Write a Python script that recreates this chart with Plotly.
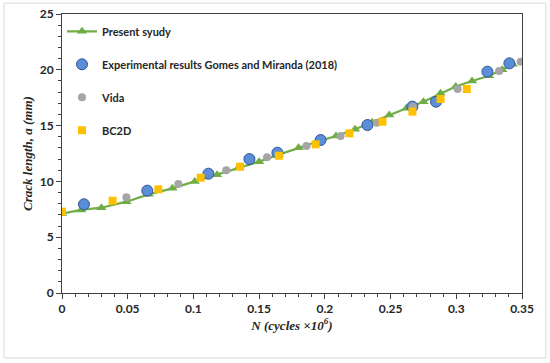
import plotly.graph_objects as go

# Present study (line + triangles)
present_N = [0, 0.0145, 0.030, 0.049, 0.066, 0.084, 0.101, 0.118, 0.134, 0.150, 0.165, 0.180,
             0.194, 0.2085, 0.223, 0.236, 0.249, 0.262, 0.275, 0.288, 0.2996, 0.312, 0.325, 0.335, 0.343]
present_a = [7.1, 7.44, 7.64, 8.18, 8.84, 9.38, 10.0, 10.6, 11.2, 11.77, 12.4, 13.02,
             13.55, 14.07, 14.67, 15.3, 15.95, 16.55, 17.14, 17.89, 18.5, 19.0, 19.47, 20.0, 20.5]

# Experimental results Gomes and Miranda (2018)
exp_N = [0.0167, 0.0649, 0.1114, 0.1426, 0.1639, 0.1968, 0.2324, 0.2666, 0.2846, 0.3237, 0.3404]
exp_a = [7.95, 9.17, 10.69, 12.0, 12.57, 13.71, 15.05, 16.7, 17.14, 19.83, 20.58]

# Vida
vida_N = [0.049, 0.0885, 0.125, 0.156, 0.186, 0.212, 0.2395, 0.267, 0.301, 0.3326, 0.349]
vida_a = [8.57, 9.77, 11.0, 12.16, 13.17, 14.07, 15.26, 16.7, 18.28, 19.9, 20.73]

# BC2D
bc_N = [0.0, 0.0385, 0.0733, 0.1055, 0.1355, 0.165, 0.193, 0.2187, 0.2438, 0.2666, 0.288, 0.308]
bc_a = [7.29, 8.27, 9.29, 10.33, 11.32, 12.3, 13.32, 14.31, 15.35, 16.25, 17.38, 18.28]

x_ticks = [0, 0.05, 0.1, 0.15, 0.2, 0.25, 0.3, 0.35]
x_ticktext = ["0", "0.05", "0.1", "0.15", "0.2", "0.25", "0.3", "0.35"]
y_ticks = [0, 5, 10, 15, 20, 25]

fig = go.Figure()
fig.add_trace(go.Scatter(x=present_N, y=present_a, mode="lines+markers", name="Present syudy",
                         line=dict(color="#70AD47", width=2.25),
                         marker=dict(symbol="triangle-up", size=9, color="#70AD47"),
                         legendgroup="a"))
fig.add_trace(go.Scatter(x=exp_N, y=exp_a, mode="markers",
                         name="Experimental results Gomes and Miranda (2018)",
                         marker=dict(symbol="circle", size=11, color="#5B8ED6",
                                     line=dict(color="#2F5597", width=1)),
                         legendgroup="b"))
fig.add_trace(go.Scatter(x=vida_N, y=vida_a, mode="markers", name="Vida",
                         marker=dict(symbol="circle", size=8, color="#A5A5A5"),
                         legendgroup="c"))
fig.add_trace(go.Scatter(x=bc_N, y=bc_a, mode="markers", name="BC2D",
                         marker=dict(symbol="square", size=8, color="#FFC000"),
                         legendgroup="d"))

axis_color = "#404040"
tickfont = dict(family="Lato", size=12, color="#262626", weight="bold")
titlefont = dict(family="Liberation Serif", size=13, color="#262626", weight="bold", style="italic")

fig.update_xaxes(range=[0, 0.35], tickvals=x_ticks, ticktext=x_ticktext, automargin=False,
                 ticklabeloverflow="allow",
                 showline=True, linecolor=axis_color, linewidth=1, mirror=True,
                 ticks="outside", ticklen=5, tickcolor=axis_color, tickwidth=1,
                 minor=dict(dtick=0.01, ticks="outside", ticklen=3, tickcolor=axis_color, showgrid=False),
                 showgrid=False, zeroline=False, tickfont=tickfont,
                 title=dict(text="N (cycles ×10<sup>6</sup>)", font=titlefont, standoff=2))
fig.update_yaxes(range=[0, 25], tickvals=y_ticks, automargin=False,
                 ticklabeloverflow="allow",
                 showline=True, linecolor=axis_color, linewidth=1, mirror=True,
                 ticks="outside", ticklen=5, tickcolor=axis_color, tickwidth=1,
                 minor=dict(dtick=1, ticks="outside", ticklen=3, tickcolor=axis_color, showgrid=False),
                 showgrid=False, zeroline=False, tickfont=tickfont,
                 title=dict(text="Crack length, a (mm)", font=titlefont, standoff=4))

fig.update_layout(
    width=550, height=363,
    margin=dict(l=62, r=28, t=14, b=70, autoexpand=False),
    paper_bgcolor="white", plot_bgcolor="white",
    showlegend=True,
    legend=dict(x=0.0, y=0.99, xanchor="left", yanchor="top",
                bgcolor="rgba(0,0,0,0)", traceorder="grouped", tracegroupgap=14,
                font=dict(family="Lato", size=11, color="#262626", weight="bold")),
    shapes=[dict(type="rect", xref="paper", yref="paper",
                 x0=-0.126, x1=1.052, y0=-0.233, y1=1.039,
                 line=dict(color="#D9D9D9", width=1), fillcolor="rgba(0,0,0,0)", layer="below")],
)

# remove the page's default 8px body margin so the 550x363 figure fills the window
fig.write_html("out.html", config={"displayModeBar": False},
               post_script="document.body.style.margin='0';")
